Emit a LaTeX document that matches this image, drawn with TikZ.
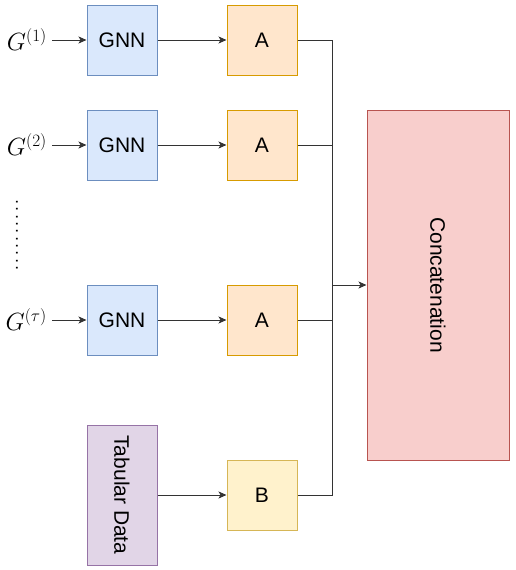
\documentclass[tikz,border=0pt]{standalone}
\usepackage{fontspec}
\setmainfont{Liberation Sans}
\usetikzlibrary{arrows.meta}
\definecolor{gnnfill}{HTML}{DAE8FC}\definecolor{gnnline}{HTML}{6C8EBF}
\definecolor{afill}{HTML}{FFE6CC}\definecolor{aline}{HTML}{D79B00}
\definecolor{bfill}{HTML}{FFF2CC}\definecolor{bline}{HTML}{D6B656}
\definecolor{tfill}{HTML}{E1D5E7}\definecolor{tline}{HTML}{9673A6}
\definecolor{cfill}{HTML}{F8CECC}\definecolor{cline}{HTML}{B85450}
\newcommand{\dotsep}{.\kern2.6pt}
\begin{document}
\begin{tikzpicture}[x=1pt,y=-1pt,
  box/.style={draw, line width=1pt, minimum width=70pt, minimum height=70pt, inner sep=0pt, font=\fontsize{21}{25}\selectfont},
  gnn/.style={box, fill=gnnfill, draw=gnnline},
  abox/.style={box, fill=afill, draw=aline},
  bbox/.style={box, fill=bfill, draw=bline},
  glabel/.style={anchor=east, inner sep=0pt, font=\fontsize{26}{30}\selectfont},
  conn/.style={line width=1pt, draw=black!80},
  arr/.style={conn, -{Stealth[length=8pt,width=7pt,inset=2pt]}}]
\useasboundingbox (0,0) rectangle (515,570);
% GNN boxes
\node[gnn] (g1) at (122,40) {GNN};
\node[gnn] (g2) at (122,145) {GNN};
\node[gnn] (g3) at (122,320) {GNN};
% A boxes
\node[abox] (a1) at (262,40) {A};
\node[abox] (a2) at (262,145) {A};
\node[abox] (a3) at (262,320) {A};
% Tabular data
\node[box, fill=tfill, draw=tline, minimum width=70pt, minimum height=140pt] (tab) at (122,495) {};
\node[rotate=-90, font=\fontsize{21}{25}\selectfont] (tabtext) at (tab.center) {Tabular Data};
% B box
\node[bbox] (b) at (262,495) {B};
% Concatenation
\node[box, fill=cfill, draw=cline, minimum width=142pt, minimum height=350pt] (cat) at (438,285) {};
\node[rotate=-90, font=\fontsize{21}{25}\selectfont] (cattext) at (cat.center) {Concatenation};
% labels
\node[glabel] (l1) at (47,40) {$G^{(1)}$};
\node[glabel] (l2) at (47,145) {$G^{(2)}$};
\node[glabel] (l3) at (47,320) {$G^{(\tau)}$};
\node[rotate=90, inner sep=0pt, font=\fontsize{17}{20}\selectfont] (dots) at (17,235) {\dotsep\dotsep\dotsep\dotsep\dotsep\dotsep\dotsep\dotsep\dotsep.};
% arrows
\draw[arr] (l1.east) ++(5,0) coordinate (s1) -- (g1.west);
\draw[arr] (l2.east) ++(5,0) coordinate (s2) -- (g2.west);
\draw[arr] (l3.east) ++(5,0) coordinate (s3) -- (g3.west);
\draw[arr] (g1) -- (a1);
\draw[arr] (g2) -- (a2);
\draw[arr] (g3) -- (a3);
\draw[arr] (tab) -- (b);
% bus
\coordinate (top) at (332,40);
\coordinate (bot) at (332,495);
\coordinate (j) at (332,285);
\draw[conn] (a1.east) -- (top) -- (bot) -- (b.east);
\draw[conn] (a2.east) -- (a2.east -| top);
\draw[conn] (a3.east) -- (a3.east -| top);
\draw[arr] (j) -- (j -| cat.west);
\end{tikzpicture}
\end{document}
